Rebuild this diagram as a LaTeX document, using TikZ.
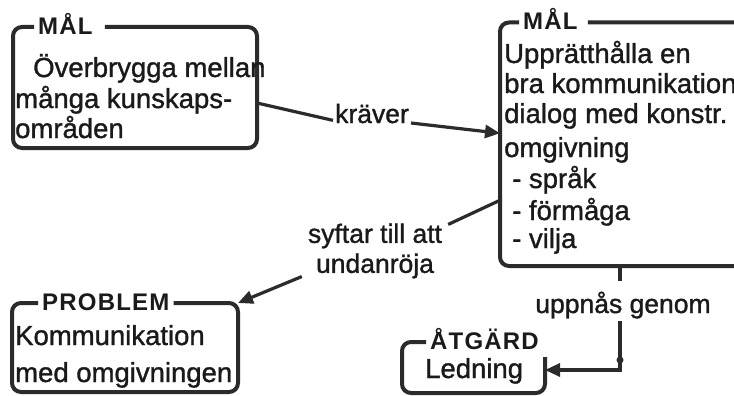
\documentclass[tikz,border=0pt]{standalone}
\usepackage{fontspec}
\setmainfont{Liberation Sans}[FakeBold=1.2]
\newfontfamily\titlefont[LetterSpace=5]{Liberation Sans}
\usetikzlibrary{arrows.meta}
\definecolor{ink}{HTML}{1A1A1A}
\definecolor{linec}{HTML}{2B2B2B}
\begin{document}
\begin{tikzpicture}[x=1pt,y=-1pt,
  boxarea/.style={rectangle, inner sep=0pt, outer sep=0pt},
  frame/.style={draw=linec, line width=4pt, rounded corners=9pt},
  ttl/.style={anchor=base west, inner xsep=4pt, inner ysep=0pt, text=ink, font=\titlefont\bfseries\fontsize{24}{24}\selectfont},
  body/.style={anchor=base west, inner sep=0pt, text=ink, font=\fontsize{27.5}{30}\selectfont},
  lbl/.style={text=ink, font=\fontsize{26.5}{30}\selectfont, align=center, inner sep=2pt},
  conn/.style={draw=linec, line width=3.2pt},
  arr/.style={conn, -{Triangle[length=15pt,width=13pt]}},
]
\useasboundingbox (0,0) rectangle (734,396);
\fill[white] (0,0) rectangle (734,396);
\clip (0,0) rectangle (734,396);

% box areas
\node[boxarea, minimum width=244pt, minimum height=121pt] (m1) at (135,87.5) {};
\node[boxarea, minimum width=250pt, minimum height=243.5pt] (m2) at (625,144.25) {};
\node[boxarea, minimum width=226pt, minimum height=89pt] (p) at (125,347.5) {};
\node[boxarea, minimum width=143pt, minimum height=51pt] (a) at (473.5,367.5) {};

% titles
\node[ttl] (t1) at (34,35) {MÅL};
\node[ttl] (t2) at (519,30) {MÅL};
\node[ttl] (tp) at (38,310) {PROBLEM};
\node[ttl] (ta) at (426,349.5) {ÅTGÄRD};

% frames
\draw[frame] ([xshift=8pt]t1.east |- m1.north) -| (m1.south east) -| (m1.north west) -- (t1.west |- m1.north);
\draw[frame] ([xshift=6pt]t2.east |- m2.north) -| (m2.south east) -| (m2.north west) -- (t2.west |- m2.north);
\draw[frame] (tp.east |- p.north) -| (p.south east) -| (p.north west) -- (tp.west |- p.north);
\draw[frame] ([yshift=-15pt]a.north east) -- (a.south east) -| (a.north west) -- (ta.west |- a.north);

% body texts
\node[body] (m1a) at (33,77) {Överbrygga mellan};
\node[body] (m1b) at (15,108) {många kunskaps-};
\node[body] (m1c) at (15,138) {områden};

\node[body] (m2a) at (504,63) {Upprätthålla en};
\node[body] (m2b) at (504,93) {bra kommunikation/};
\node[body] (m2c) at (504,123) {dialog med konstr.};
\node[body] (m2d) at (504,157) {omgivning};
\node[body] (m2e) at (512,188) {- språk};
\node[body] (m2f) at (512,220) {- förmåga};
\node[body] (m2g) at (512,248) {- vilja};

\node[body] (pa) at (15,345) {Kommunikation};
\node[body] (pb) at (15,382) {med omgivningen};

\node[body] (aa) at (425,378) {Ledning};

% labels
\node[lbl, anchor=base] (kr) at (372,123) {kräver};
\node[lbl] (sy) at (375,251) {syftar till att\\undanröja};
\node[lbl, anchor=base] (up) at (623,313) {uppnås genom};

% connectors
\draw[conn] ([yshift=-15.5pt]m1.east) -- (kr.mid west);
\draw[arr] (kr.base east) -- ([yshift=11pt]m2.west);

\draw[conn] ([yshift=-56pt]m2.west) -- ([xshift=4pt,yshift=-3pt]sy.north east);
\draw[arr] ([xshift=-4pt,yshift=4pt]sy.south west) -- (p.north east);

\coordinate (bend) at (620,370);
\node[circle, fill=linec, inner sep=0pt, minimum size=7pt] (dot) at (620,360) {};
\draw[conn, shorten >=8pt] ([xshift=-5pt]m2.south) -- ([xshift=-5pt]m2.south |- up.north);
\draw[arr] ([xshift=-5pt]m2.south |- up.south) -- (bend) -- (a.east |- bend);
\end{tikzpicture}
\end{document}
